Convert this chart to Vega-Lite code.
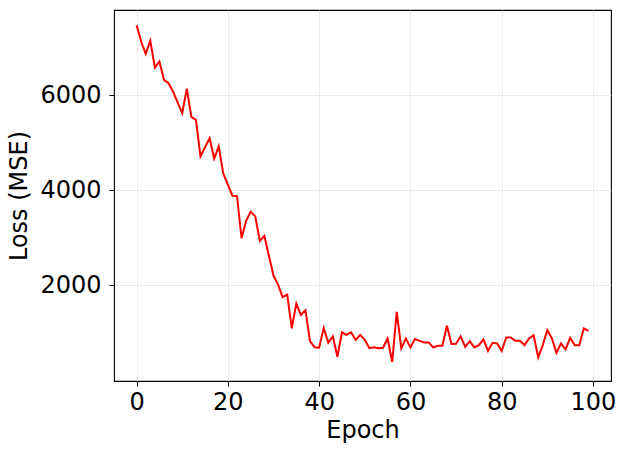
{
  "$schema": "https://vega.github.io/schema/vega-lite/v6.json",
  "autosize": "none",
  "width": 497,
  "height": 371,
  "padding": {"left": 114, "top": 10, "right": 13, "bottom": 71},
  "background": "white",
  "config": {
    "font": "DejaVu Sans",
    "view": {"stroke": "black", "strokeWidth": 1.1},
    "axis": {
      "labelFont": "DejaVu Sans",
      "titleFont": "DejaVu Sans",
      "labelFontSize": 24,
      "titleFontSize": 24,
      "titleFontWeight": "normal",
      "labelColor": "black",
      "titleColor": "black",
      "tickColor": "black",
      "tickSize": 5,
      "tickWidth": 1,
      "domain": false,
      "gridColor": "#e6e6e6",
      "gridWidth": 0.8,
      "labelPadding": 4
    }
  },
  "data": {
    "values": [
      {"epoch": 0, "loss": 7470}, {"epoch": 1, "loss": 7126}, {"epoch": 2, "loss": 6867}, {"epoch": 3, "loss": 7141},
      {"epoch": 4, "loss": 6580}, {"epoch": 5, "loss": 6705}, {"epoch": 6, "loss": 6320}, {"epoch": 7, "loss": 6250},
      {"epoch": 8, "loss": 6070}, {"epoch": 9, "loss": 5840}, {"epoch": 10, "loss": 5620}, {"epoch": 11, "loss": 6135},
      {"epoch": 12, "loss": 5540}, {"epoch": 13, "loss": 5478}, {"epoch": 14, "loss": 4710}, {"epoch": 15, "loss": 4900},
      {"epoch": 16, "loss": 5090}, {"epoch": 17, "loss": 4660}, {"epoch": 18, "loss": 4920}, {"epoch": 19, "loss": 4345},
      {"epoch": 20, "loss": 4115}, {"epoch": 21, "loss": 3880}, {"epoch": 22, "loss": 3870}, {"epoch": 23, "loss": 2985},
      {"epoch": 24, "loss": 3350}, {"epoch": 25, "loss": 3545}, {"epoch": 26, "loss": 3445}, {"epoch": 27, "loss": 2930},
      {"epoch": 28, "loss": 3035}, {"epoch": 29, "loss": 2610}, {"epoch": 30, "loss": 2200}, {"epoch": 31, "loss": 2010},
      {"epoch": 32, "loss": 1745}, {"epoch": 33, "loss": 1800}, {"epoch": 34, "loss": 1090}, {"epoch": 35, "loss": 1610},
      {"epoch": 36, "loss": 1370}, {"epoch": 37, "loss": 1470}, {"epoch": 38, "loss": 820}, {"epoch": 39, "loss": 690},
      {"epoch": 40, "loss": 682}, {"epoch": 41, "loss": 1095}, {"epoch": 42, "loss": 785}, {"epoch": 43, "loss": 920},
      {"epoch": 44, "loss": 490}, {"epoch": 45, "loss": 1005}, {"epoch": 46, "loss": 950}, {"epoch": 47, "loss": 1005},
      {"epoch": 48, "loss": 845}, {"epoch": 49, "loss": 950}, {"epoch": 50, "loss": 845}, {"epoch": 51, "loss": 670},
      {"epoch": 52, "loss": 690}, {"epoch": 53, "loss": 670}, {"epoch": 54, "loss": 680}, {"epoch": 55, "loss": 876},
      {"epoch": 56, "loss": 383}, {"epoch": 57, "loss": 1437}, {"epoch": 58, "loss": 666}, {"epoch": 59, "loss": 876},
      {"epoch": 60, "loss": 687}, {"epoch": 61, "loss": 862}, {"epoch": 62, "loss": 826}, {"epoch": 63, "loss": 792},
      {"epoch": 64, "loss": 792}, {"epoch": 65, "loss": 687}, {"epoch": 66, "loss": 721}, {"epoch": 67, "loss": 721},
      {"epoch": 68, "loss": 1142}, {"epoch": 69, "loss": 760}, {"epoch": 70, "loss": 765}, {"epoch": 71, "loss": 920},
      {"epoch": 72, "loss": 700}, {"epoch": 73, "loss": 820}, {"epoch": 74, "loss": 687}, {"epoch": 75, "loss": 735},
      {"epoch": 76, "loss": 855}, {"epoch": 77, "loss": 615}, {"epoch": 78, "loss": 784}, {"epoch": 79, "loss": 771},
      {"epoch": 80, "loss": 615}, {"epoch": 81, "loss": 897}, {"epoch": 82, "loss": 897}, {"epoch": 83, "loss": 826},
      {"epoch": 84, "loss": 826}, {"epoch": 85, "loss": 735}, {"epoch": 86, "loss": 876}, {"epoch": 87, "loss": 946},
      {"epoch": 88, "loss": 476}, {"epoch": 89, "loss": 735}, {"epoch": 90, "loss": 1051}, {"epoch": 91, "loss": 876},
      {"epoch": 92, "loss": 573}, {"epoch": 93, "loss": 771}, {"epoch": 94, "loss": 645}, {"epoch": 95, "loss": 889},
      {"epoch": 96, "loss": 735}, {"epoch": 97, "loss": 735}, {"epoch": 98, "loss": 1087}, {"epoch": 99, "loss": 1037}
    ]
  },
  "mark": {"type": "line", "color": "red", "strokeWidth": 2},
  "encoding": {
    "x": {
      "field": "epoch",
      "type": "quantitative",
      "scale": {"domain": [-4.95, 103.95], "nice": false, "zero": false},
      "axis": {"values": [0, 20, 40, 60, 80, 100], "format": "d", "title": "Epoch", "titlePadding": 4, "grid": true}
    },
    "y": {
      "field": "loss",
      "type": "quantitative",
      "scale": {"domain": [-20, 7790], "nice": false, "zero": false},
      "axis": {"values": [2000, 4000, 6000], "format": "d", "title": "Loss (MSE)", "labelPadding": 8, "titlePadding": 8, "grid": true}
    }
  }
}
